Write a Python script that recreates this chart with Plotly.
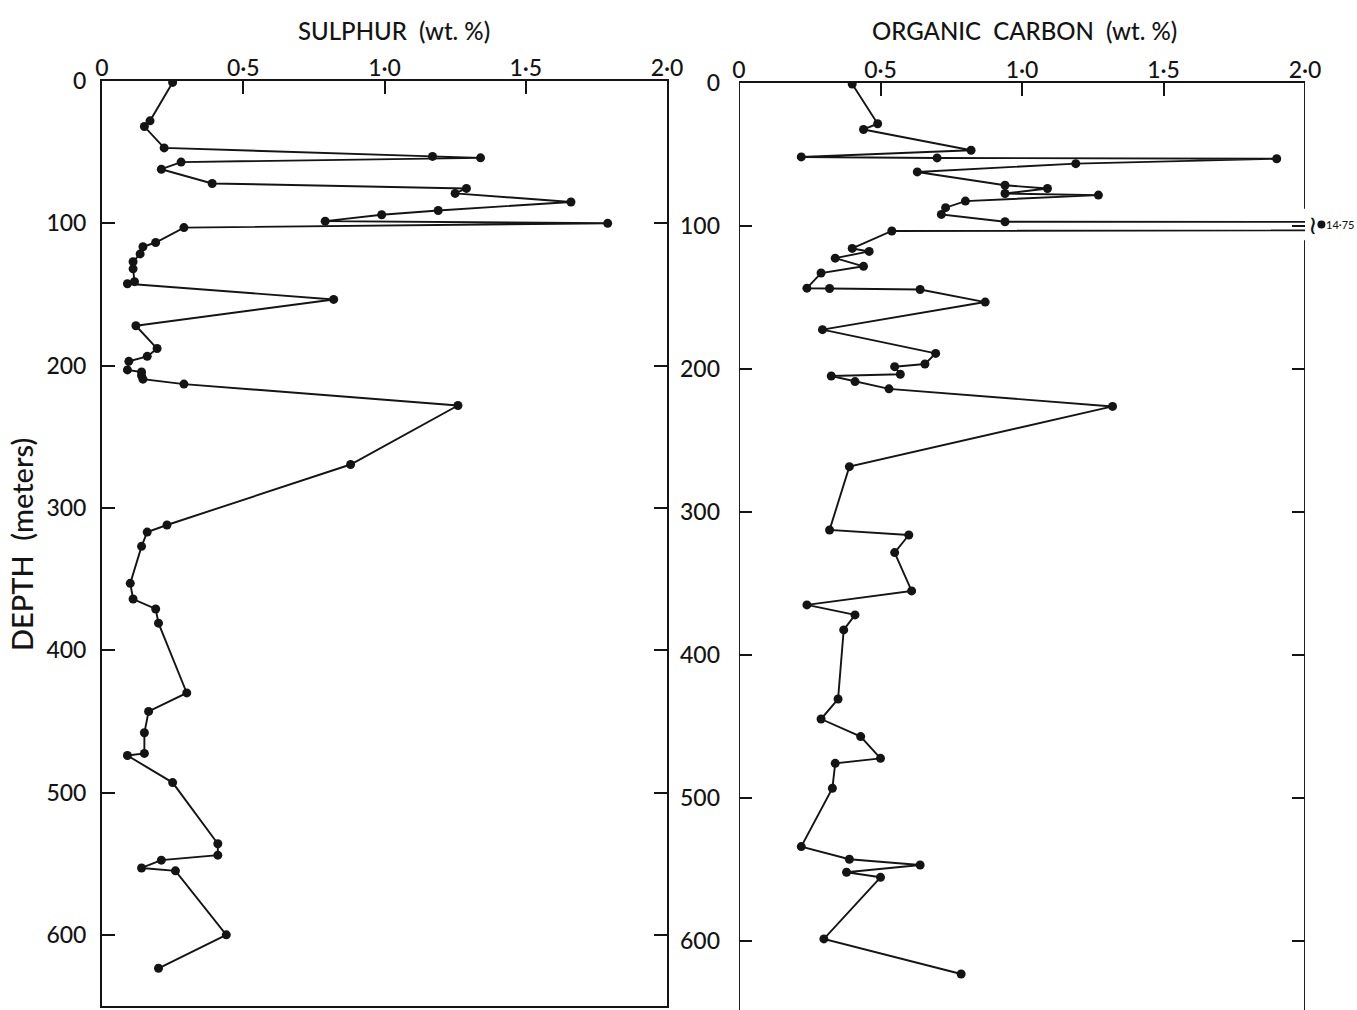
import plotly.graph_objects as go

# Sulphur content (wt.%) down the hole
S_DEPTH = [1, 28, 32, 47, 53, 54, 57, 62, 72, 75.5, 79, 85, 91, 94, 98.5, 100,
           103, 113.5, 116.5, 121.5, 127, 132, 141, 142.5, 153.5, 172, 188,
           193.5, 197, 203, 204.5, 207, 209.5, 213, 228, 269.5, 312, 317, 327,
           353, 364, 371, 381, 430, 443, 458, 472.5, 474, 493, 536, 544, 547.5,
           553, 555, 600, 623.5]
S_VALUE = [0.25, 0.17, 0.15, 0.22, 1.17, 1.34, 0.28, 0.21, 0.39, 1.29, 1.25,
           1.66, 1.19, 0.99, 0.79, 1.79, 0.29, 0.19, 0.145, 0.135, 0.11, 0.11,
           0.115, 0.09, 0.82, 0.12, 0.195, 0.16, 0.095, 0.09, 0.14, 0.14, 0.145,
           0.29, 1.26, 0.88, 0.23, 0.16, 0.14, 0.10, 0.11, 0.19, 0.20, 0.30,
           0.165, 0.15, 0.15, 0.09, 0.25, 0.41, 0.41, 0.21, 0.14, 0.26, 0.44,
           0.20]

# Organic carbon content (wt.%) down the hole
C_DEPTH = [0.7, 28.5, 32.5, 47, 51.7, 52.4, 53, 56.4, 62.2, 71.5, 73.8, 77.3,
           78.4, 82.6, 87.2, 91.9, 97, 99, 103.5, 115.7, 117.8, 122.5, 128.2,
           132.9, 143.5, 143.7, 144.4, 153.2, 172.5, 189.1, 196.5, 198.4, 203.7,
           204.9, 208.8, 213.9, 226.2, 268.3, 312.6, 316.1, 328.4, 355.2, 365,
           372, 382.5, 430.8, 444.8, 457.1, 472.3, 475.8, 493.2, 534, 542.9,
           546.9, 552, 555.5, 598.6, 623.1]
C_VALUE = [0.40, 0.49, 0.44, 0.82, 0.22, 0.70, 1.90, 1.19, 0.63, 0.94, 1.09,
           0.94, 1.27, 0.80, 0.73, 0.715, 0.94, 14.75, 0.54, 0.40, 0.46, 0.34,
           0.44, 0.29, 0.24, 0.32, 0.64, 0.87, 0.295, 0.695, 0.657, 0.55, 0.57,
           0.326, 0.41, 0.53, 1.32, 0.39, 0.32, 0.60, 0.55, 0.61, 0.24, 0.41,
           0.37, 0.35, 0.29, 0.43, 0.50, 0.34, 0.33, 0.22, 0.39, 0.64, 0.38,
           0.50, 0.30, 0.785]

X_TICKS = [0, 0.5, 1.0, 1.5, 2.0]
X_TICK_TEXT = ["0", "0·5", "1·0", "1·5", "2·0"]
DEPTH_TICKS = [0, 100, 200, 300, 400, 500, 600]

X_MAX = 2.0
X_OUTER = 2.16           # extra room right of the carbon frame for off-scale samples
BREAK_X = 2.058          # where an off-scale sample's dot is placed
FRAME_GAP = (88, 110)    # right frame is interrupted where the off-scale excursion passes

W, H = 1357, 1010
INK = "#141414"
FONT = "Lato"
WEIGHT = 500
LW = 1.9


def fx(p):
    return p / W


def fy(p):
    return 1 - p / H


def font(size, family=FONT):
    return dict(family=family, size=size, color=INK, weight=WEIGHT)


C_DOMAIN = [fx(739), fx(1305)]
C_OUTER_DOMAIN = [C_DOMAIN[0], C_DOMAIN[0] + (C_DOMAIN[1] - C_DOMAIN[0]) * X_OUTER / X_MAX]

fig = go.Figure()

line_style = dict(color=INK, width=LW)
marker_style = dict(color=INK, size=9)

fig.add_trace(go.Scatter(x=S_VALUE, y=S_DEPTH, mode="lines+markers",
                         line=line_style, marker=marker_style,
                         xaxis="x", yaxis="y", showlegend=False, hoverinfo="x+y"))
fig.add_trace(go.Scatter(x=C_VALUE, y=C_DEPTH, mode="lines+markers",
                         line=line_style, marker=marker_style,
                         xaxis="x2", yaxis="y2", showlegend=False, hoverinfo="x+y"))

# samples beyond the axis maximum: dot beside the frame with its value written out
off_scale = [(v, d) for v, d in zip(C_VALUE, C_DEPTH) if v > X_MAX]
fig.add_trace(go.Scatter(x=[BREAK_X] * len(off_scale), y=[d for _, d in off_scale],
                         mode="markers", marker=dict(color=INK, size=8),
                         xaxis="x3", yaxis="y2", showlegend=False,
                         hovertext=[f"{v}" for v, _ in off_scale], hoverinfo="text"))

annotations = []
for v, d in off_scale:
    annotations.append(dict(x=BREAK_X - 0.031, y=d, xref="x3", yref="y2", text="≀",
                            showarrow=False, font=dict(family="DejaVu Sans", size=26, color=INK),
                            xanchor="center", yanchor="middle"))
    annotations.append(dict(x=BREAK_X + 0.012, y=d, xref="x3", yref="y2",
                            text=f"{v:.2f}".replace(".", "·"), showarrow=False,
                            font=font(11), xanchor="left", yanchor="middle",
                            borderpad=0))

annotations += [
    dict(x=fx(394), y=fy(30), xref="paper", yref="paper", text="SULPHUR  (wt. %)",
         showarrow=False, font=font(24), xanchor="center", yanchor="middle"),
    dict(x=fx(1024), y=fy(30), xref="paper", yref="paper",
         text="ORGANIC  CARBON  (wt. %)", showarrow=False,
         font=font(24), xanchor="center", yanchor="middle"),
    dict(x=fx(21), y=fy(545), xref="paper", yref="paper", text="DEPTH  (meters)",
         textangle=-90, showarrow=False, font=font(29),
         xanchor="center", yanchor="middle"),
]

tick_font = font(23)

x_common = dict(range=[0, X_MAX], side="top", tickvals=X_TICKS, ticktext=X_TICK_TEXT,
                ticks="inside", ticklen=13, tickwidth=LW, tickcolor=INK,
                showline=True, linecolor=INK, linewidth=LW, showgrid=False,
                zeroline=False, tickfont=tick_font, ticklabelstandoff=-6, fixedrange=True)
y_common = dict(tickvals=DEPTH_TICKS, ticks="inside", ticklen=13, tickwidth=LW,
                tickcolor=INK, showgrid=False, zeroline=False, tickfont=tick_font,
                fixedrange=True)

fig.update_layout(
    width=W, height=H,
    margin=dict(l=0, r=0, t=0, b=0, autoexpand=False),
    paper_bgcolor="white", plot_bgcolor="rgba(0,0,0,0)",
    xaxis=dict(domain=[fx(102), fx(667)], anchor="y", mirror=True, **x_common),
    yaxis=dict(domain=[fy(1006), fy(81)], range=[650, 0], anchor="x",
               showline=True, linecolor=INK, linewidth=LW, mirror="ticks",
               ticklabelstandoff=9, **y_common),
    xaxis2=dict(domain=C_DOMAIN, anchor="y2", mirror=False, **x_common),
    yaxis2=dict(domain=[fy(1010), fy(83)], range=[648.3, 0], anchor="x2",
                showline=False, mirror="ticks", ticklabelstandoff=18, **y_common),
    xaxis3=dict(domain=C_OUTER_DOMAIN, range=[0, X_OUTER], anchor="y2",
                visible=False, fixedrange=True),
    annotations=annotations,
    shapes=[
        dict(type="line", xref="x2", yref="y2", x0=0, x1=0, y0=0, y1=648.3,
             line=dict(color=INK, width=LW)),
        dict(type="line", xref="x2", yref="y2", x0=X_MAX, x1=X_MAX, y0=0, y1=FRAME_GAP[0],
             line=dict(color=INK, width=LW)),
        dict(type="line", xref="x2", yref="y2", x0=X_MAX, x1=X_MAX, y0=FRAME_GAP[1],
             y1=648.3, line=dict(color=INK, width=LW)),
    ],
)

fig.write_html("out.html")
